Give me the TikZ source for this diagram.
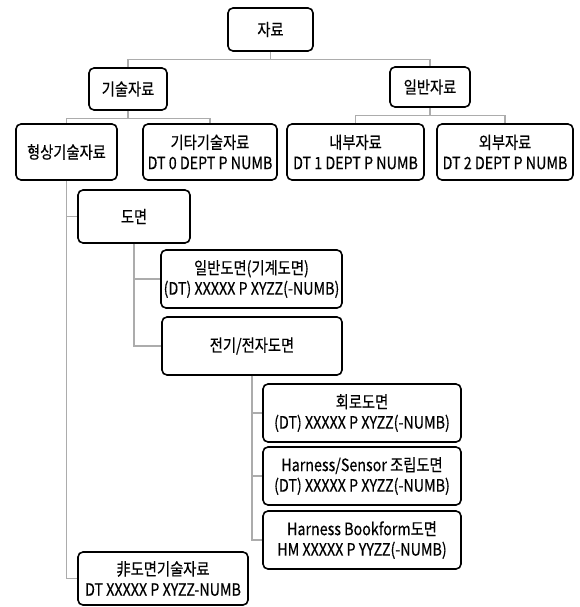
\documentclass[tikz,border=0pt]{standalone}
\usepackage{fontspec}
\setmainfont{Noto Sans CJK KR}[FakeStretch=0.84,FakeBold=0.4]
\begin{document}
\begin{tikzpicture}[x=1pt,y=-1pt,
  box/.style={draw=black, line width=1.6pt, rounded corners=5pt, fill=white,
    align=center, inner sep=0pt, font=\fontsize{17}{20.5}\selectfont},
  link/.style={draw=gray!65, line width=1.3pt}]
\useasboundingbox (0,0) rectangle (579,607);
\node[box, minimum width=85, minimum height=43] (root) at (270.5,29.5) {자료};
\node[box, minimum width=78, minimum height=42] (tech) at (128,89) {기술자료};
\node[box, minimum width=80, minimum height=40] (gen) at (430,87) {일반자료};
\node[box, minimum width=101, minimum height=56] (shape) at (66.5,152) {형상기술자료};
\node[box, minimum width=134, minimum height=56] (other) at (210,152) {기타기술자료\\DT 0 DEPT P NUMB};
\node[box, minimum width=137, minimum height=56] (inner) at (355.5,152) {내부자료\\DT 1 DEPT P NUMB};
\node[box, minimum width=136, minimum height=56] (outer) at (505,152) {외부자료\\DT 2 DEPT P NUMB};
\node[box, minimum width=112, minimum height=53] (dwg) at (134,216.5) {도면};
\node[box, minimum width=181, minimum height=58] (mech) at (251.5,279) {일반도면(기계도면)\\(DT) XXXXX P XYZZ(-NUMB)};
\node[box, minimum width=180, minimum height=58] (elec) at (252,346) {전기/전자도면};
\node[box, minimum width=198, minimum height=58] (circ) at (362,413) {회로도면\\(DT) XXXXX P XYZZ(-NUMB)};
\node[box, minimum width=198, minimum height=58] (harn) at (362,476) {Harness/Sensor 조립도면\\(DT) XXXXX P XYZZ(-NUMB)};
\node[box, minimum width=198, minimum height=58] (book) at (362,540) {Harness Bookform도면\\HM XXXXX P YYZZ(-NUMB)};
\node[box, minimum width=170, minimum height=53] (nond) at (163,578.5) {非도면기술자료\\DT XXXXX P XYZZ-NUMB};
\draw[link] (root.south) -- ++(0,8) -| (tech.north);
\draw[link] (root.south) -- ++(0,8) -| (gen.north);
\draw[link] (tech.south) -- ++(0,8) -| (shape.north);
\draw[link] (tech.south) -- ++(0,8) -| (other.north);
\draw[link] (gen.south) -- ++(0,8) -| (inner.north);
\draw[link] (gen.south) -- ++(0,8) -| (outer.north);
\draw[link] (shape.south) |- (dwg.west);
\draw[link] (shape.south) |- (nond.west);
\draw[link] (dwg.south) |- (mech.west);
\draw[link] (dwg.south) |- (elec.west);
\draw[link] (elec.south) |- (circ.west);
\draw[link] (elec.south) |- (harn.west);
\draw[link] (elec.south) |- (book.west);
\end{tikzpicture}
\end{document}
